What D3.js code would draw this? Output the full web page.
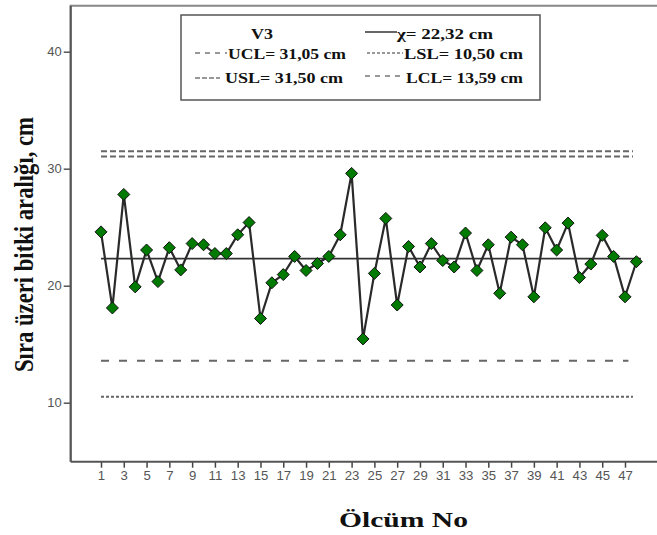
<!DOCTYPE html>
<html>
<head>
<meta charset="utf-8">
<script src="https://cdn.jsdelivr.net/npm/d3@7"></script>
<style>
  body { margin: 0; background: #fff; }
  svg { display: block; }
  .serif { font-family: "Liberation Serif", "Times New Roman", serif; font-weight: bold; fill: #111; }
  .tick text { font-family: "Liberation Sans", Arial, sans-serif; font-size: 12px; fill: #555; }
</style>
</head>
<body>
<svg id="chart" width="657" height="535"></svg>
<script>
// Measurements (Ölcüm No 1..48)
const measureNo = d3.range(1, 49);
const spacing = [24.6, 18.1, 27.8, 19.9, 23.05, 20.35, 23.25, 21.35, 23.6, 23.5,
  22.75, 22.75, 24.35, 25.4, 17.2, 20.25, 20.95, 22.5, 21.3, 21.9,
  22.5, 24.35, 29.6, 15.45, 21.05, 25.75, 18.35, 23.35, 21.6, 23.6,
  22.15, 21.6, 24.5, 21.3, 23.5, 19.35, 24.15, 23.5, 19.05, 24.95,
  23.05, 25.35, 20.7, 21.85, 24.3, 22.5, 19.05, 22.05];

// Control / spec limits
const limitNames = ['USL', 'UCL', 'LCL', 'LSL'];
const limitValues = [31.5, 31.05, 13.59, 10.5];
const meanValue = 22.32;

// Tick labels
const xTicks = d3.range(1, 48, 2);
const yTicks = [10, 20, 30, 40];

const svg = d3.select('#chart');

const plotLeft = 70.7, plotTop = 5.7, plotBottom = 461.7;

const x = d3.scaleLinear().domain([1, 47]).range([101, 625]);
const y = d3.scaleLinear().domain([10, 40]).range([402.7, 51.7]);

// Frame (extends past right edge)
svg.append('path')
  .attr('d', `M${plotLeft},${plotBottom}V${plotTop}H700`)
  .attr('fill', 'none')
  .attr('stroke', '#888')
  .attr('stroke-width', 2);

// Axes
const yAxis = svg.append('g')
  .attr('transform', `translate(${plotLeft},0)`)
  .call(d3.axisLeft(y).tickValues(yTicks).tickSize(7).tickPadding(2));
yAxis.select('.domain').remove();
yAxis.selectAll('.tick line').attr('stroke', '#555').attr('stroke-width', 1.5);
yAxis.selectAll('.tick text').style('font-size', '13px');

const xAxis = svg.append('g')
  .attr('transform', `translate(0,${plotBottom})`)
  .call(d3.axisBottom(x).tickValues(xTicks).tickSize(6).tickPadding(4));
xAxis.select('.domain').remove();
xAxis.selectAll('.tick line').attr('stroke', '#444').attr('stroke-width', 1.5);
xAxis.selectAll('.tick text').attr('transform', 'scale(1.1,1)');

svg.append('line')
  .attr('x1', plotLeft).attr('x2', 700)
  .attr('y1', plotBottom).attr('y2', plotBottom)
  .attr('stroke', '#555').attr('stroke-width', 2);
svg.append('line')
  .attr('x1', plotLeft).attr('x2', plotLeft)
  .attr('y1', plotTop).attr('y2', plotBottom)
  .attr('stroke', '#555').attr('stroke-width', 2);

// Limit lines
const limitStyle = {
  USL: { dash: '6,3', end: 47.7 },
  UCL: { dash: '6,3', end: 47.7 },
  LCL: { dash: '8,10', end: 47.3 },
  LSL: { dash: '3,2', end: 47.7 }
};
limitNames.forEach((name, i) => {
  svg.append('line')
    .attr('x1', x(1)).attr('x2', x(limitStyle[name].end))
    .attr('y1', y(limitValues[i])).attr('y2', y(limitValues[i]))
    .attr('stroke', '#666')
    .attr('stroke-width', 2)
    .attr('stroke-dasharray', limitStyle[name].dash);
});

// Mean line
svg.append('line')
  .attr('x1', x(1)).attr('x2', x(48.4))
  .attr('y1', y(meanValue)).attr('y2', y(meanValue))
  .attr('stroke', '#333')
  .attr('stroke-width', 1.8);

// Series line
const line = d3.line()
  .x((d, i) => x(measureNo[i]))
  .y(d => y(d));
svg.append('path')
  .datum(spacing)
  .attr('d', line)
  .attr('fill', 'none')
  .attr('stroke', '#2a2a2a')
  .attr('stroke-width', 2.2);

// Diamond markers
svg.selectAll('.pt')
  .data(spacing)
  .enter()
  .append('path')
  .attr('class', 'pt')
  .attr('d', 'M0,-6L6,0L0,6L-6,0Z')
  .attr('transform', (d, i) => `translate(${x(measureNo[i])},${y(d)})`)
  .attr('fill', '#007a00')
  .attr('stroke', '#111')
  .attr('stroke-width', 1);

// Legend
const legend = svg.append('g');
legend.append('rect')
  .attr('x', 181).attr('y', 15)
  .attr('width', 359).attr('height', 85)
  .attr('fill', '#fff')
  .attr('stroke', '#555')
  .attr('stroke-width', 1.5);

const legendItems = [
  { label: 'V3', x: 251, y: 39, w: 22 },
  { label: '\u03c7= 22,32 cm', x: 397, y: 39, w: 96, sx1: 365, sx2: 397, sy: 32, dash: null },
  { label: 'UCL= 31,05 cm', x: 228, y: 59, w: 118, sx1: 195, sx2: 227, sy: 53, dash: '5,5' },
  { label: 'LSL= 10,50 cm', x: 404, y: 59, w: 119, sx1: 367, sx2: 403, sy: 53, dash: '3,2' },
  { label: 'USL= 31,50 cm', x: 225, y: 83, w: 118, sx1: 195, sx2: 220, sy: 78, dash: '5,2' },
  { label: 'LCL= 13,59 cm', x: 406, y: 83, w: 117, sx1: 365, sx2: 400, sy: 76, dash: '5,5' }
];
legendItems.forEach(d => {
  if (d.sx1 !== undefined) {
    legend.append('line')
      .attr('x1', d.sx1).attr('x2', d.sx2)
      .attr('y1', d.sy).attr('y2', d.sy)
      .attr('stroke', d.dash ? '#777' : '#333')
      .attr('stroke-width', 1.5)
      .attr('stroke-dasharray', d.dash);
  }
  legend.append('text')
    .attr('class', 'serif')
    .attr('x', d.x).attr('y', d.y)
    .attr('font-size', 15)
    .attr('textLength', d.w)
    .attr('lengthAdjust', 'spacingAndGlyphs')
    .text(d.label);
});

// Axis titles
svg.append('text')
  .attr('class', 'serif')
  .attr('x', 339).attr('y', 527)
  .attr('font-size', 21)
  .attr('textLength', 129)
  .attr('lengthAdjust', 'spacingAndGlyphs')
  .text('Ölcüm No');

svg.append('text')
  .attr('class', 'serif')
  .attr('transform', 'translate(33,244.5) scale(1.3,1) rotate(-90)')
  .attr('text-anchor', 'middle')
  .attr('font-size', 21)
  .attr('textLength', 255)
  .attr('lengthAdjust', 'spacingAndGlyphs')
  .text('Sıra üzeri bitki aralığı, cm');
</script>
</body>
</html>
